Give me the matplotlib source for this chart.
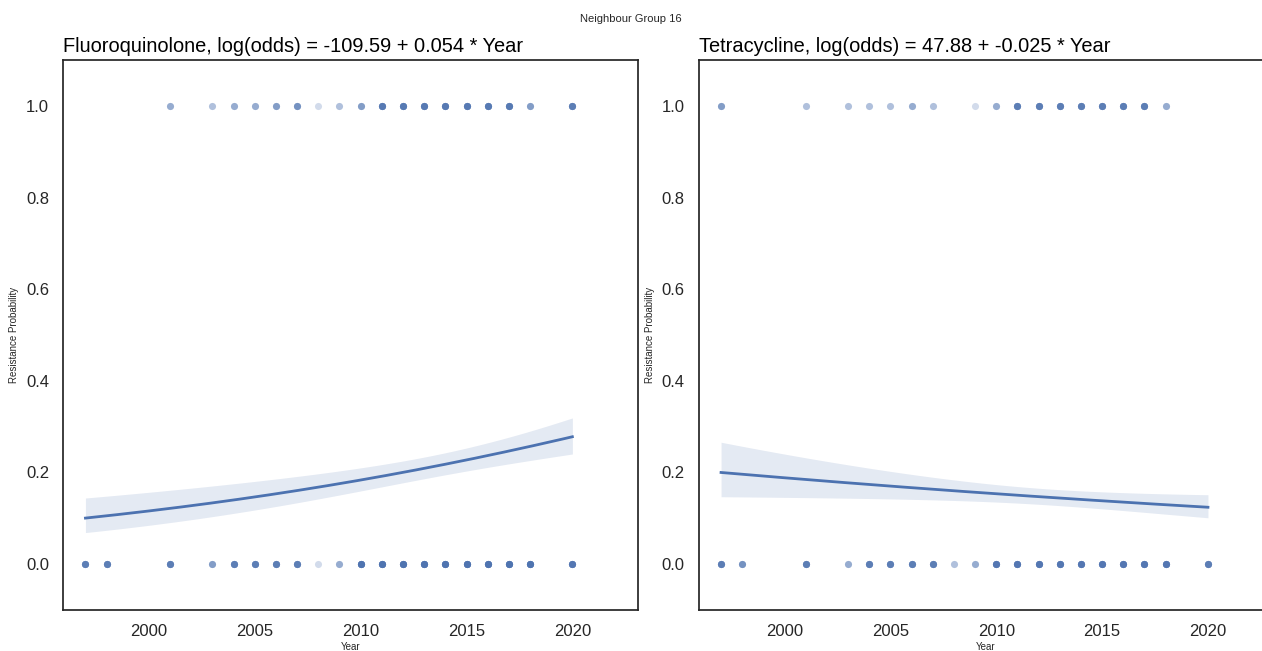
import numpy as np
import matplotlib
matplotlib.use("Agg")
import matplotlib.pyplot as plt

plt.rcParams["font.family"] = ["Liberation Sans", "DejaVu Sans"]

# ---- data -------------------------------------------------------------
suptitle = "Neighbour Group 16"
drugs = ["Fluoroquinolone", "Tetracycline"]

# fitted logistic model: log(odds) = intercept + slope * Year
intercepts = [-109.59, 47.88]
slopes = [0.05378, -0.02467]

# isolate counts per year (resistant = 1, susceptible = 0)
fq_years_res = [2001, 2003, 2004, 2005, 2006, 2007, 2008, 2009, 2010, 2011,
                2012, 2013, 2014, 2015, 2016, 2017, 2018, 2020]
fq_counts_res = [3, 2, 3, 3, 4, 5, 1, 2, 4, 9, 9, 9, 9, 9, 9, 9, 4, 8]
fq_years_sus = [1997, 1998, 2001, 2003, 2004, 2005, 2006, 2007, 2008, 2009,
                2010, 2011, 2012, 2013, 2014, 2015, 2016, 2017, 2018, 2020]
fq_counts_sus = [8, 8, 8, 4, 8, 8, 8, 8, 1, 3, 12, 12, 12, 12, 12, 12, 12,
                 12, 12, 10]

tc_years_res = [1997, 2001, 2003, 2004, 2005, 2006, 2007, 2009, 2010, 2011,
                2012, 2013, 2014, 2015, 2016, 2017, 2018]
tc_counts_res = [4, 2, 2, 2, 2, 3, 2, 1, 3, 8, 8, 8, 8, 8, 8, 8, 3]
tc_years_sus = [1997, 1998, 2001, 2003, 2004, 2005, 2006, 2007, 2008, 2009,
                2010, 2011, 2012, 2013, 2014, 2015, 2016, 2017, 2018, 2020]
tc_counts_sus = [8, 5, 8, 3, 8, 8, 8, 8, 2, 3, 10, 10, 10, 10, 10, 10, 10,
                 10, 10, 8]

# standard error of the linear predictor: sqrt(se0^2 + (se1*(Year-centre))^2)
se_centre = [2014.0, 2012.0]
se0 = [0.072, 0.071]
se1 = [0.0116, 0.0117]

year_min, year_max = 1997, 2020

panels = [
    (fq_years_res, fq_counts_res, fq_years_sus, fq_counts_sus),
    (tc_years_res, tc_counts_res, tc_years_sus, tc_counts_sus),
]

# ---- drawing ----------------------------------------------------------
blue = "#4C72B0"
dark = "#262626"


def expit(z):
    return 1.0 / (1.0 + np.exp(-z))


fig = plt.figure(figsize=(12.62, 6.51), dpi=100)
W, H = 1262, 651
ax_w, ax_h, ax_bottom = 575, 550, 41
lefts = [63, 698.6]

fig.suptitle(suptitle, x=0.5, y=0.978, fontsize=8, color=dark)

for i, left in enumerate(lefts):
    ax = fig.add_axes([left / W, ax_bottom / H, ax_w / W, ax_h / H])
    yrs_r, cnt_r, yrs_s, cnt_s = panels[i]

    xs = np.repeat(yrs_r, cnt_r).astype(float)
    ax.scatter(xs, np.ones_like(xs), s=26, color=blue, alpha=0.25,
               linewidths=0, zorder=2)
    xs = np.repeat(yrs_s, cnt_s).astype(float)
    ax.scatter(xs, np.zeros_like(xs), s=26, color=blue, alpha=0.25,
               linewidths=0, zorder=2)

    grid = np.linspace(year_min, year_max, 200)
    eta = intercepts[i] + slopes[i] * grid
    se = np.sqrt(se0[i] ** 2 + (se1[i] * (grid - se_centre[i])) ** 2)
    ax.fill_between(grid, expit(eta - 1.96 * se), expit(eta + 1.96 * se),
                    color=blue, alpha=0.15, linewidth=0, zorder=1)
    ax.plot(grid, expit(eta), color=blue, lw=2, zorder=3)

    ax.set_xlim(1995.94, 2023.1)
    ax.set_ylim(-0.1, 1.1)
    ax.set_xticks([2000, 2005, 2010, 2015, 2020])
    ax.set_yticks([0.0, 0.2, 0.4, 0.6, 0.8, 1.0])
    ax.set_yticklabels([f"{v:.1f}" for v in ax.get_yticks()])
    ax.tick_params(length=0, labelsize=12, labelcolor=dark, pad=10)
    for sp in ax.spines.values():
        sp.set_color(dark)
        sp.set_linewidth(1.25)

    ax.set_xlabel("Year", fontsize=7, color=dark, labelpad=2)
    ax.set_ylabel("Resistance Probability", fontsize=7, color=dark,
                  labelpad=5)
    eq = f"{intercepts[i]:.2f} + {slopes[i]:.3f} * Year"
    ax.set_title(f"{drugs[i]}, log(odds) = {eq}", loc="left",
                 fontsize=14.4, color="black", pad=6)

fig.savefig("out.png", dpi=100)
